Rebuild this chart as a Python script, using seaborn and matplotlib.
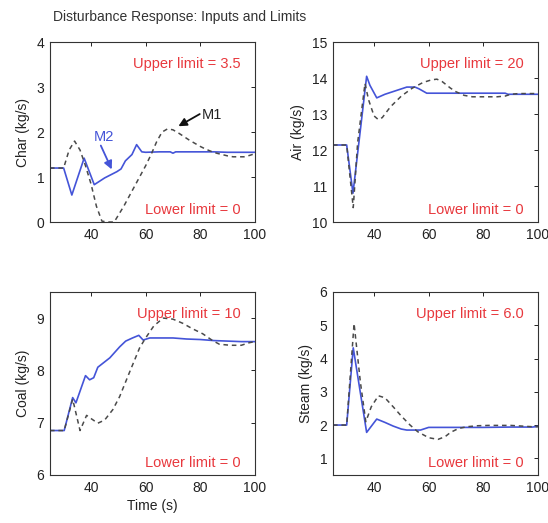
import numpy as np
import pandas as pd
import seaborn as sns
import matplotlib
matplotlib.use('Agg')
import matplotlib.pyplot as plt

sns.set_style('white')
plt.rcParams['font.family'] = ['Liberation Sans', 'DejaVu Sans']

# ---- data ----
# Char
char_m2_t = [25, 30, 33, 37.5, 41.2, 45, 49.5, 51, 52.6, 55, 56.7, 58.6, 60, 65, 69, 70, 71, 75, 80, 85, 90, 95, 100]
char_m2 = [1.2, 1.2, 0.6, 1.42, 0.83, 0.98, 1.12, 1.18, 1.36, 1.5, 1.72, 1.56, 1.55, 1.56, 1.56, 1.53, 1.56, 1.56, 1.56, 1.56, 1.55, 1.55, 1.55]
char_m1_t = [25, 30, 32, 34, 36, 38, 40, 42, 44, 46, 48.5, 52, 56, 60, 62, 64, 66, 68, 70, 72, 74, 76, 78, 80, 82, 84, 86, 88, 90, 92, 94, 96, 98, 100]
char_m1 = [1.2, 1.2, 1.6, 1.8, 1.6, 1.25, 0.85, 0.35, 0.02, 0.0, 0.0, 0.35, 0.8, 1.25, 1.5, 1.78, 2.0, 2.07, 2.05, 1.98, 1.9, 1.82, 1.75, 1.68, 1.62, 1.57, 1.53, 1.5, 1.47, 1.45, 1.45, 1.45, 1.48, 1.52]

# Air
air_m2_t = [25, 30, 32.3, 37.3, 38.5, 41, 44, 48, 52, 55, 56.5, 59.3, 65, 70, 80, 88, 89, 95, 100]
air_m2 = [12.14, 12.14, 10.8, 14.05, 13.8, 13.45, 13.55, 13.65, 13.75, 13.75, 13.7, 13.58, 13.58, 13.58, 13.58, 13.58, 13.55, 13.55, 13.55]
air_m1_t = [25, 30, 32.4, 34, 36.7, 38, 40, 41.5, 43, 46, 50, 54, 58, 61, 63, 65, 68, 70, 73, 76, 80, 85, 88, 90, 93, 96, 100]
air_m1 = [12.14, 12.14, 10.4, 12.2, 13.85, 13.4, 12.95, 12.85, 12.9, 13.2, 13.5, 13.72, 13.88, 13.95, 13.97, 13.9, 13.72, 13.62, 13.52, 13.48, 13.48, 13.48, 13.5, 13.55, 13.57, 13.57, 13.57]

# Coal
coal_m2_t = [25, 30.2, 33.3, 34.5, 38, 39.5, 41, 42.5, 46.9, 50.5, 52.7, 55.2, 57.5, 59.1, 61.5, 70, 75, 80, 85, 90, 95, 100]
coal_m2 = [6.85, 6.85, 7.48, 7.38, 7.9, 7.82, 7.86, 8.06, 8.24, 8.45, 8.56, 8.62, 8.67, 8.58, 8.62, 8.62, 8.6, 8.59, 8.57, 8.56, 8.55, 8.55]
coal_m1_t = [25, 30.2, 33.3, 36, 38.4, 40, 42.5, 45, 48, 50.5, 54, 57.8, 60, 63, 66.4, 70, 73.6, 77, 80.9, 84.5, 87, 91, 95, 98, 100]
coal_m1 = [6.85, 6.85, 7.45, 6.85, 7.14, 7.08, 6.99, 7.05, 7.25, 7.5, 7.95, 8.43, 8.62, 8.85, 9.0, 8.98, 8.9, 8.8, 8.7, 8.57, 8.5, 8.48, 8.48, 8.53, 8.55]

# Steam
steam_m2_t = [25, 30, 32.4, 37.3, 41, 44, 47, 50, 52, 57, 60, 70, 80, 90, 98, 100]
steam_m2 = [2.0, 2.0, 4.32, 1.78, 2.18, 2.08, 1.97, 1.88, 1.85, 1.85, 1.93, 1.93, 1.93, 1.94, 1.94, 1.96]
steam_m1_t = [25, 30, 32.7, 35, 37, 39, 41.6, 44, 47, 50, 53.2, 56, 60, 63.4, 66, 68, 71, 74, 78, 82, 86, 90, 94, 98, 100]
steam_m1 = [2.0, 2.0, 5.05, 3.3, 2.1, 2.55, 2.88, 2.82, 2.55, 2.27, 2.0, 1.8, 1.62, 1.57, 1.65, 1.78, 1.9, 1.95, 1.98, 1.99, 1.99, 1.99, 1.97, 1.95, 1.95]

panels = [
    ('Char (kg/s)', char_m2_t, char_m2, char_m1_t, char_m1, (0, 4), [0, 1, 2, 3, 4], 'Upper limit = 3.5'),
    ('Air (kg/s)', air_m2_t, air_m2, air_m1_t, air_m1, (10, 15), [10, 11, 12, 13, 14, 15], 'Upper limit = 20'),
    ('Coal (kg/s)', coal_m2_t, coal_m2, coal_m1_t, coal_m1, (6, 9.5), [6, 7, 8, 9], 'Upper limit = 10'),
    ('Steam (kg/s)', steam_m2_t, steam_m2, steam_m1_t, steam_m1, (0.5, 6), [1, 2, 3, 4, 5, 6], 'Upper limit = 6.0'),
]

blue = '#4454d8'
dark = '#4a4a4a'
red = '#e8383d'

fig = plt.figure(figsize=(5.48, 5.23), dpi=100)
rects = [
    [0.0912, 0.5755, 0.374, 0.344],
    [0.6077, 0.5755, 0.374, 0.344],
    [0.0912, 0.0918, 0.374, 0.35],
    [0.6077, 0.0918, 0.374, 0.35],
]

axes = []
for rect, (lab, t2, y2, t1, y1, ylim, yt, up) in zip(rects, panels):
    ax = fig.add_axes(rect)
    sns.lineplot(x=t2, y=y2, ax=ax, color=blue, linewidth=1.2, estimator=None, sort=False)
    sns.lineplot(x=t1, y=y1, ax=ax, color=dark, linewidth=1.1, linestyle=(0, (3, 2.5)),
                 estimator=None, sort=False)
    ax.set_xlim(25, 100)
    ax.set_ylim(*ylim)
    ax.set_xticks([40, 60, 80, 100])
    ax.set_yticks(yt)
    ax.tick_params(direction='in', length=3, width=0.7, top=True, right=True,
                   labelsize=10, colors='#222222', pad=4)
    for s in ax.spines.values():
        s.set_color('#333333')
        s.set_linewidth(0.8)
    ax.set_ylabel(lab, fontsize=10, color='#222222', labelpad=5)
    ax.set_xlabel('')
    ax.text(0.93, 0.88, up, transform=ax.transAxes, ha='right', va='center',
            color=red, fontsize=10.5)
    ax.text(0.93, 0.065, 'Lower limit = 0', transform=ax.transAxes, ha='right', va='center',
            color=red, fontsize=10.5)
    axes.append(ax)

axes[2].set_xlabel('Time (s)', fontsize=10, color='#222222', labelpad=3)

# labels for the two models
ax = axes[0]
ax.text(44.9, 1.9, 'M2', color=blue, fontsize=10.5, ha='center', va='center')
ax.annotate('', xy=(47.6, 1.17), xytext=(43.6, 1.7),
            arrowprops=dict(arrowstyle='-|>', color=blue, lw=1.3, mutation_scale=12,
                            shrinkA=0, shrinkB=0))
ax.text(84.2, 2.37, 'M1', color='#222222', fontsize=10.5, ha='center', va='center')
ax.annotate('', xy=(72.0, 2.13), xytext=(79.8, 2.4),
            arrowprops=dict(arrowstyle='-|>', color='#111111', lw=1.3, mutation_scale=12,
                            shrinkA=0, shrinkB=0))

fig.text(0.097, 0.967, 'Disturbance Response: Inputs and Limits', fontsize=10,
         color='#333333', ha='left', va='center')

fig.savefig('out.png', dpi=100)
